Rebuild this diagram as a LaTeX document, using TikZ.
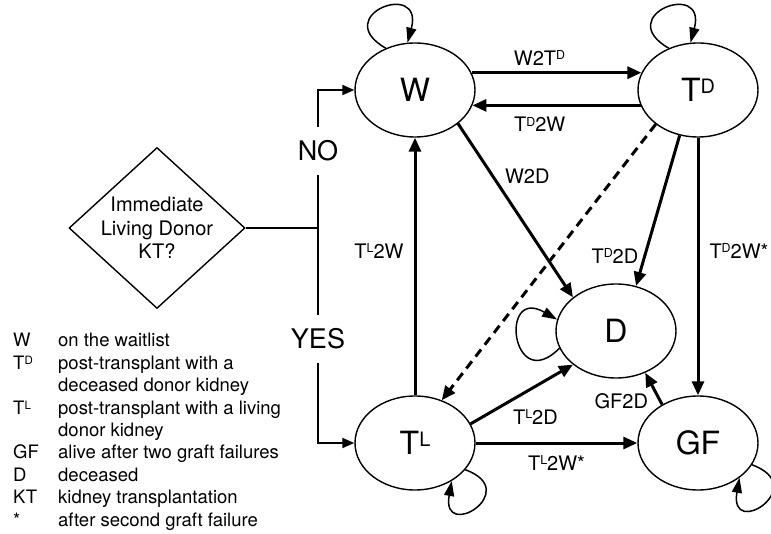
\documentclass[tikz,border=0pt]{standalone}
\usepackage{fontspec}
\setmainfont{TeX Gyre Heros}
\usetikzlibrary{shapes.geometric, arrows.meta, positioning, calc}

\newcommand{\sups}[1]{\raisebox{0.27em}{\scalebox{0.62}{#1}}}

\begin{document}
\begin{tikzpicture}[
    x=1pt, y=-1pt,
    state/.style={ellipse, draw, line width=1.4pt, minimum width=120pt, minimum height=94pt, inner sep=0pt, font=\fontsize{32}{38}\selectfont},
    decision/.style={diamond, draw, line width=1.4pt, minimum width=176pt, minimum height=161pt, inner sep=-12pt, align=center, font=\fontsize{20}{23.5}\selectfont},
    answer/.style={minimum height=48pt, inner sep=0pt, font=\fontsize{27}{32}\selectfont},
    trans/.style={font=\fontsize{20}{24}\selectfont, inner sep=2pt},
    arrow/.style={-{Triangle[length=14pt,width=12pt]}, line width=3pt},
    selfloop/.style={-{Triangle[length=15pt,width=10pt]}, line width=1.5pt},
    branch/.style={line width=1.8pt},
    branchar/.style={-{Triangle[length=12pt,width=10pt]}, line width=1.8pt},
    legend/.style={anchor=north west, inner sep=0pt, font=\fontsize{18.5}{22.4}\selectfont}
]
\useasboundingbox (0,0) rectangle (771,534);

% States
\node[state] (W) at (415,90) {W};
\node[state] (TD) at (698,90) {T\sups{D}};
\node[state] (D) at (616,331) {D};
\node[state] (TL) at (415,443) {T\sups{L}};
\node[state] (GF) at (698,443) {GF};

% Decision
\node[decision] (dec) at (157,228) {Immediate\\Living Donor\\KT?};
\coordinate (jn) at (318,228);
\node[answer] (no) at (318,151) {NO};
\node[answer] (yes) at (318,339) {YES};

% Legend
\node[legend] (key) at (13,331) {%
\begin{tabular}{@{}p{45pt}@{}l@{}}
W & on the waitlist\\
T\sups{D} & post-transplant with a\\
 & deceased donor kidney\\
T\sups{L} & post-transplant with a living\\
 & donor kidney\\
GF & alive after two graft failures\\
D & deceased\\
KT & kidney transplantation\\
{*} & after second graft failure
\end{tabular}};

% Decision branches
\draw[branch] (dec.east) -- (jn);
\draw[branch] (jn) -- (no);
\draw[branchar] (no) |- (W);
\draw[branch] (jn) -- (yes);
\draw[branchar] (yes) |- (TL);

% Transitions
\draw[arrow] (W.17) -- node[trans, above=4pt, pos=0.4] {W2T\sups{D}} (TD.163);
\draw[arrow] (TD.195) -- node[trans, below=8pt, pos=0.6] {T\sups{D}2W} (W.-15);
\draw[arrow] (W.-38) -- node[trans, right=9pt, pos=0.3] {W2D} (D.142);
\draw[arrow] (TD.-112) -- node[trans, left=3pt, pos=0.8] {T\sups{D}2D} (D.66);
\draw[arrow] (TD.south) -- node[trans, right=8pt, pos=0.44] {T\sups{D}2W*} (GF.north);
\draw[arrow, dash pattern=on 9pt off 6pt] (TD.219) -- (TL.58);
\draw[arrow] (TL.north) -- node[trans, left=8pt, pos=0.56] {T\sups{L}2W} (W.south);
\draw[arrow] (TL.19) -- node[trans, pos=0.4, anchor=north west, xshift=-2pt, yshift=-6pt] {T\sups{L}2D} (D.218);
\draw[arrow] (TL.east) -- node[trans, below=9pt] {T\sups{L}2W*} (GF.west);
\draw[arrow] (GF.133) -- node[trans, left=9pt, pos=0.1] {GF2D} (D.-55);

% Self loops
\draw[selfloop] (W.125) to[out=150, in=75, looseness=7.5] (W.99);
\draw[selfloop] (TD.125) to[out=150, in=75, looseness=7.5] (TD.99);
\draw[selfloop] (D.197) to[out=-135, in=150, looseness=6] (D.169);
\draw[selfloop] (TL.-28) to[out=-20, in=-100, looseness=9] (TL.-46);
\draw[selfloop] (GF.-22) to[out=-20, in=-100, looseness=9] (GF.-40);

\end{tikzpicture}
\end{document}
